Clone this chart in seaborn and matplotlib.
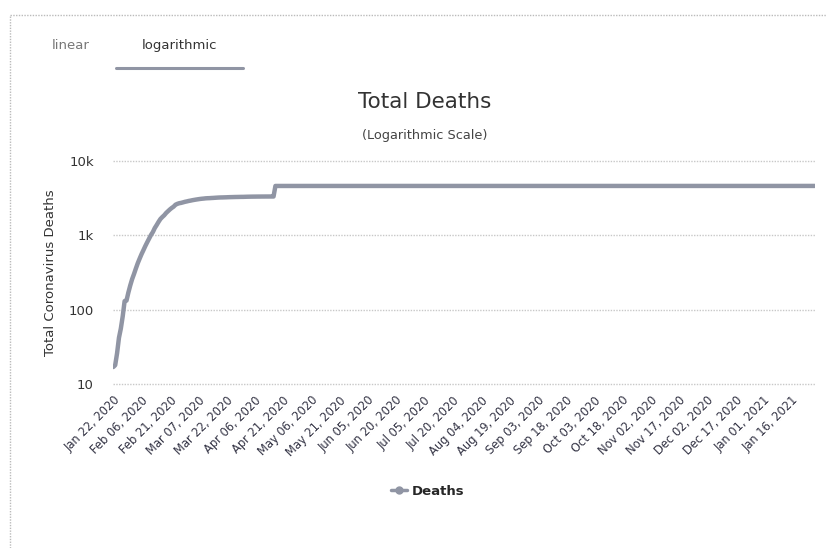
import pandas as pd
import seaborn as sns
import matplotlib.pyplot as plt
from matplotlib.lines import Line2D

# China cumulative deaths, daily from Jan 22 to Apr 17 2020, then the few later changes
start_date = "2020-01-22"
early_deaths = [17, 18, 26, 42, 56, 82, 131, 133, 171, 213,
                259, 304, 361, 425, 490, 562, 636, 722, 811, 908,
                1016, 1113, 1259, 1380, 1523, 1665, 1770, 1868, 2004, 2118,
                2236, 2345, 2442, 2592, 2663, 2715, 2744, 2788, 2835,
                2870, 2912, 2943, 2981, 3012, 3042, 3070, 3097, 3119, 3136,
                3158, 3169, 3176, 3189, 3199, 3213, 3226, 3237, 3245, 3248,
                3255, 3261, 3270, 3277, 3281, 3287, 3292, 3295, 3300, 3304, 3305,
                3312, 3318, 3322, 3326, 3329, 3331, 3333, 3335, 3336, 3339,
                3339, 3341, 3341, 3342, 3342, 3342, 4632]
late_dates = ["2020-05-17", "2020-06-08", "2021-01-14", "2021-01-28"]
late_deaths = [4633, 4634, 4635, 4636]

tick_dates = ["2020-01-22", "2020-02-06", "2020-02-21", "2020-03-07", "2020-03-22",
              "2020-04-06", "2020-04-21", "2020-05-06", "2020-05-21", "2020-06-05",
              "2020-06-20", "2020-07-05", "2020-07-20", "2020-08-04", "2020-08-19",
              "2020-09-03", "2020-09-18", "2020-10-03", "2020-10-18", "2020-11-02",
              "2020-11-17", "2020-12-02", "2020-12-17", "2021-01-01", "2021-01-16"]
tick_labels = ["Jan 22, 2020", "Feb 06, 2020", "Feb 21, 2020", "Mar 07, 2020", "Mar 22, 2020",
               "Apr 06, 2020", "Apr 21, 2020", "May 06, 2020", "May 21, 2020", "Jun 05, 2020",
               "Jun 20, 2020", "Jul 05, 2020", "Jul 20, 2020", "Aug 04, 2020", "Aug 19, 2020",
               "Sep 03, 2020", "Sep 18, 2020", "Oct 03, 2020", "Oct 18, 2020", "Nov 02, 2020",
               "Nov 17, 2020", "Dec 02, 2020", "Dec 17, 2020", "Jan 01, 2021", "Jan 16, 2021"]
y_ticks = [10, 100, 1000, 10000]
y_labels = ["10", "100", "1k", "10k"]

early = pd.DataFrame({"date": pd.date_range(start_date, periods=len(early_deaths)),
                      "deaths": early_deaths})
late = pd.DataFrame({"date": pd.to_datetime(late_dates), "deaths": late_deaths})
df = pd.concat([early, late], ignore_index=True)

sns.set_style("white")
plt.rcParams['font.family'] = ["DejaVu Sans"]

line_color = "#9095a4"

fig = plt.figure(figsize=(8.27, 5.48), dpi=100)
ax = fig.add_axes([0.137, 0.299, 0.848, 0.407])

sns.lineplot(data=df, x="date", y="deaths", ax=ax, color=line_color,
             linewidth=3.2, legend=False)

ax.set_yscale("log")
ax.set_ylim(10, 10000)
ax.set_yticks(y_ticks)
ax.set_yticklabels(y_labels, fontsize=9.5, color="#333333")
ax.minorticks_off()
ax.set_xlim(df["date"].min(), df["date"].max())
ax.set_xticks(pd.to_datetime(tick_dates))
ax.set_xticklabels(tick_labels, rotation=45, ha="right", rotation_mode="anchor",
                   fontsize=8.3, color="#333344")
ax.tick_params(axis="x", length=0, pad=7)
ax.tick_params(axis="y", length=0, pad=14)
ax.set_xlabel("")
ax.set_ylabel("Total Coronavirus Deaths", fontsize=9.5, color="#333333", labelpad=8)
for s in ax.spines.values():
    s.set_visible(False)
ax.grid(axis="y", color="#c8c8c8", linestyle=(0, (1, 1)), linewidth=1)
ax.grid(axis="x", visible=False)
for gl in ax.get_ygridlines():
    gl.set_clip_on(False)

# title and subtitle
fig.text(0.514, 0.813, "Total Deaths", ha="center", va="center", fontsize=15.5, color="#333333")
fig.text(0.514, 0.752, "(Logarithmic Scale)", ha="center", va="center", fontsize=9.3, color="#444444")

# scale tabs
fig.text(0.085, 0.917, "linear", ha="center", va="center", fontsize=9.5, color="#777777")
fig.text(0.217, 0.917, "logarithmic", ha="center", va="center", fontsize=9.5, color="#333333")
fig.add_artist(Line2D([0.14, 0.294], [0.876, 0.876], color=line_color, linewidth=2.2))

# dotted outer frame
fig.add_artist(Line2D([0.012, 1.0], [0.972, 0.972], color="#bbbbbb", linestyle=(0, (1, 1)), linewidth=1))
fig.add_artist(Line2D([0.012, 0.012], [0.0, 0.972], color="#bbbbbb", linestyle=(0, (1, 1)), linewidth=1))

# legend
handle = Line2D([], [], color=line_color, linewidth=2.5, marker="o", markersize=5)
fig.legend([handle], ["Deaths"], loc="center", bbox_to_anchor=(0.517, 0.104), frameon=False,
           handlelength=1.2, handletextpad=0.4, prop={"weight": "bold", "size": 9.5})

fig.savefig("out.png", dpi=100)
